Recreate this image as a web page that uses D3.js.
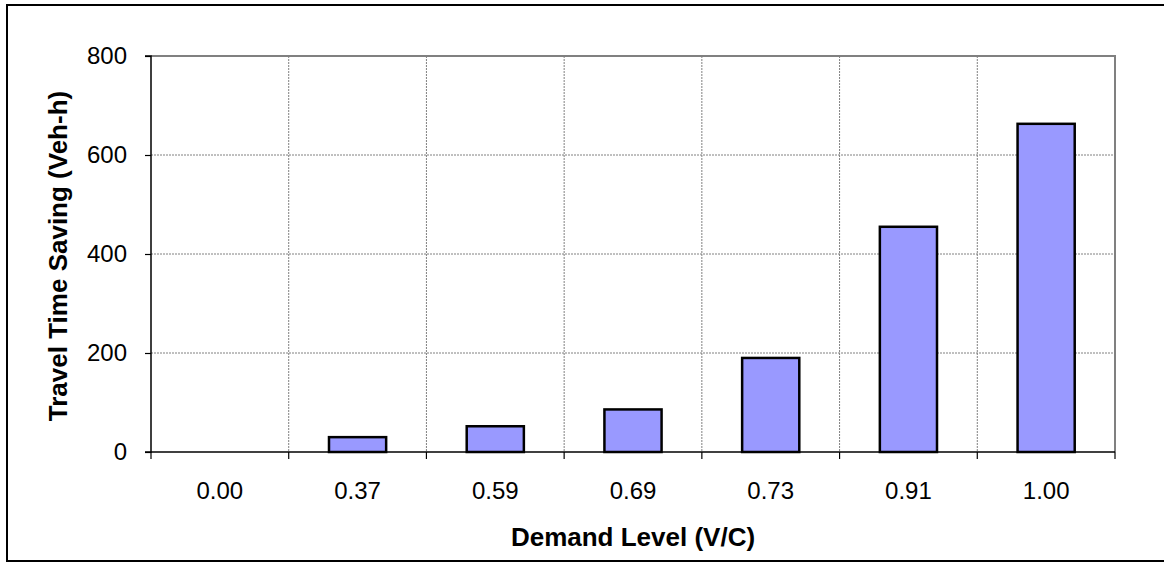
<!DOCTYPE html>
<html>
<head>
<meta charset="utf-8">
<script src="https://cdn.jsdelivr.net/npm/d3@7"></script>
<style>
html,body{margin:0;padding:0;background:#fff;}
svg{display:block;}
text{font-family:"Liberation Sans",Arial,sans-serif;fill:#000;}
</style>
</head>
<body>
<svg id="chart" width="1164" height="562"></svg>
<script>
const categories = ["0.00","0.37","0.59","0.69","0.73","0.91","1.00"];
const values = [0, 30, 52, 86, 190, 455, 663];
const yTicks = [0, 200, 400, 600, 800];
const xTitle = "Demand Level (V/C)";
const yTitle = "Travel Time Saving (Veh-h)";

const svg = d3.select("#chart");
const m = {left:151, top:56, right:1115, bottom:452};
const FONT = "Liberation Sans, Arial, sans-serif";

// outer frame
svg.append("rect").attr("x",7).attr("y",5).attr("width",1162).attr("height",556)
  .attr("fill","#fff").attr("stroke","#000").attr("stroke-width",2);

const x = d3.scaleBand().domain(categories).range([m.left, m.right]).paddingInner(0).paddingOuter(0);
const y = d3.scaleLinear().domain([0,800]).range([m.bottom, m.top]);

// gridlines horizontal
svg.append("g").selectAll("line").data(yTicks.filter(d=>d>0 && d<800)).join("line")
  .attr("x1",m.left).attr("x2",m.right).attr("y1",d=>y(d)).attr("y2",d=>y(d))
  .attr("stroke","#808080").attr("stroke-width",1).attr("stroke-dasharray","2,1");
// gridlines vertical at category boundaries
const bounds = categories.slice(1).map(c=>x(c));
svg.append("g").selectAll("line").data(bounds).join("line")
  .attr("x1",d=>d).attr("x2",d=>d).attr("y1",m.top).attr("y2",m.bottom)
  .attr("stroke","#808080").attr("stroke-width",1).attr("stroke-dasharray","2,1");

// plot border top/right
svg.append("path").attr("d",`M${m.left},${m.top}H${m.right}V${m.bottom}`)
  .attr("fill","none").attr("stroke","#808080").attr("stroke-width",2);

// bars
const bw = x.bandwidth()*0.415;
svg.append("g").selectAll("rect").data(values.map((v,i)=>({c:categories[i],v}))).join("rect")
  .filter(d=>d.v>0)
  .attr("x",d=>x(d.c)+x.bandwidth()/2-bw/2).attr("width",bw)
  .attr("y",d=>y(d.v)).attr("height",d=>y(0)-y(d.v))
  .attr("fill","#9999FF").attr("stroke","#000").attr("stroke-width",2.5);

// y axis
const yAxis = d3.axisLeft(y).tickValues(yTicks).tickSize(6).tickPadding(18).tickFormat(d3.format("d"));
const gy = svg.append("g").attr("transform",`translate(${m.left},0)`).call(yAxis);
gy.select(".domain").attr("stroke","#000").attr("stroke-width",1.5).attr("d",`M-6,${m.top}H0V${m.bottom}H-6`);
gy.selectAll(".tick line").attr("stroke","#000").attr("stroke-width",1.2);
gy.selectAll("text").style("font-size","24px").attr("font-family",FONT);

// x axis
const xAxis = d3.axisBottom(x).tickSize(0).tickPadding(30);
const gx = svg.append("g").attr("transform",`translate(0,${m.bottom})`).call(xAxis);
gx.select(".domain").attr("stroke","#000").attr("stroke-width",1.5).attr("d",`M${m.left},0H${m.right}`);
gx.selectAll("text").style("font-size","24px").attr("font-family",FONT);
// x ticks at boundaries
const allBounds = categories.map(c=>x(c)).concat([m.right]);
gx.append("g").selectAll("line").data(allBounds).join("line")
  .attr("x1",d=>d).attr("x2",d=>d).attr("y1",0).attr("y2",7)
  .attr("stroke","#000").attr("stroke-width",1.2);

// titles
svg.append("text").attr("x",(m.left+m.right)/2).attr("y",546)
  .attr("text-anchor","middle").style("font-size","26px").style("font-weight","bold").text(xTitle);
svg.append("text").attr("transform",`translate(67,${(m.top+m.bottom)/2+2}) rotate(-90)`)
  .attr("text-anchor","middle").style("font-size","26px").style("font-weight","bold").text(yTitle);
</script>
</body>
</html>
